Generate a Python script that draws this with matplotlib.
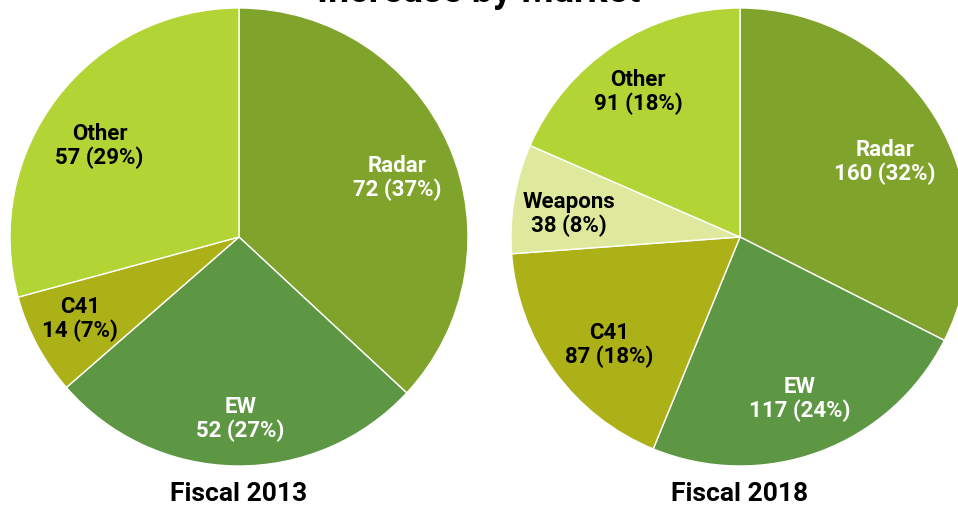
import matplotlib
matplotlib.use("Agg")
import matplotlib.pyplot as plt
import numpy as np

# data
markets_2013 = ["Radar", "EW", "C41", "Other"]
values_2013 = [72, 52, 14, 57]
pcts_2013 = [37, 27, 7, 29]

markets_2018 = ["Radar", "EW", "C41", "Weapons", "Other"]
values_2018 = [160, 117, 87, 38, 91]
pcts_2018 = [32, 24, 18, 8, 18]

colors = {"Radar": "#80a32c", "EW": "#5d9744", "C41": "#adb118",
          "Weapons": "#dfe99d", "Other": "#b2d434"}
text_colors = {"Radar": "white", "EW": "white", "C41": "black",
               "Weapons": "black", "Other": "black"}

family = ["Roboto", "DejaVu Sans"]

W, H = 958, 506
fig = plt.figure(figsize=(W / 100, H / 100), dpi=100)
ax = fig.add_axes([0, 0, 1, 1])
R = 229


def draw_pie(center, markets, values, pcts, dists, turns, title):
    wedges, _ = ax.pie(values, colors=[colors[m] for m in markets],
                       startangle=90, counterclock=False, center=center,
                       radius=R, frame=True,
                       wedgeprops=dict(edgecolor="white", linewidth=1))
    # label sits along the wedge middle, nudged a few degrees
    for w, m, v, p, d, t in zip(wedges, markets, values, pcts, dists, turns):
        mid = np.deg2rad((w.theta1 + w.theta2) / 2 + t)
        x = center[0] + d * R * np.cos(mid)
        y = center[1] + d * R * np.sin(mid)
        ax.text(x, y, f"{m}\n{v} ({p}%)", ha="center", va="center",
                color=text_colors[m], fontsize=16, fontweight="bold",
                family=family, linespacing=1.1)
    ax.text(center[0], H - 494, title, ha="center", va="center",
            fontsize=19, fontweight="bold", family=family)


draw_pie((239, H - 238), markets_2013, values_2013, pcts_2013,
         [0.74, 0.79, 0.78, 0.73], [-2.7, 1.3, -1.2, 3.9], "Fiscal 2013")
draw_pie((740, H - 238), markets_2018, values_2018, pcts_2018,
         [0.715, 0.75, 0.738, 0.754, 0.778], [-3.9, -0.1, 3.2, 1.6, 1.6],
         "Fiscal 2018")

ax.set_xlim(0, W)
ax.set_ylim(0, H)
ax.set_aspect("equal")
ax.axis("off")

# title is cut off by the top of the picture, as in the original
fig.text(0.5, 1 - 2 / H, "Increase by Market", ha="center", va="baseline",
         fontsize=27, fontweight="bold", family=family)

fig.savefig("out.png", dpi=100)
